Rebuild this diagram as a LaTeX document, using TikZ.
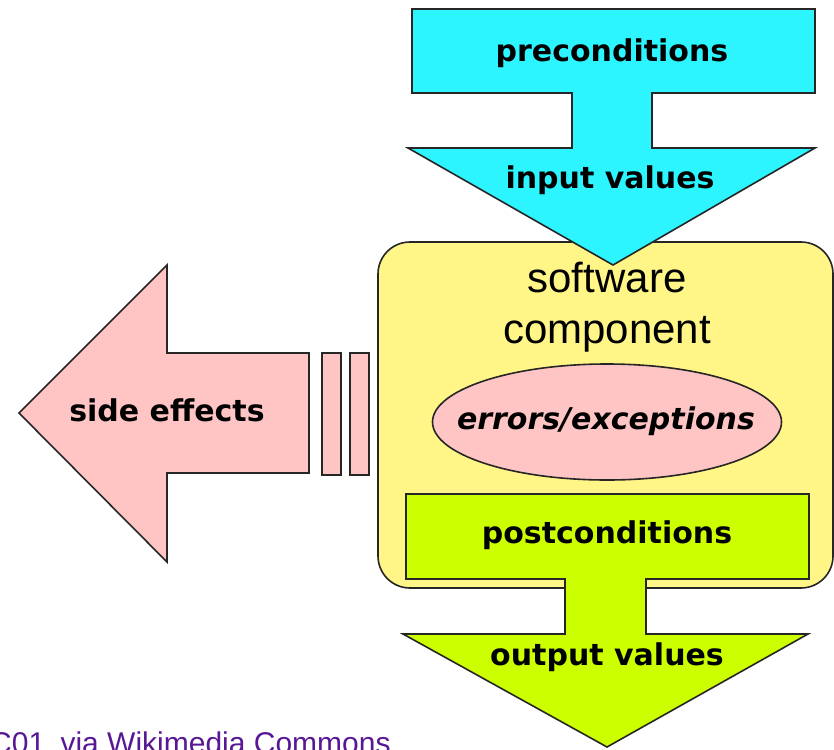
\documentclass[tikz,border=0pt]{standalone}
\usepackage{fontspec}
\usepackage{xcolor}
\usepackage{tikz}
\usetikzlibrary{positioning}

\newfontfamily\djfont{DejaVu Sans}
\newfontfamily\lsfont{Liberation Sans}
\definecolor{incyan}{RGB}{44,245,255}
\definecolor{compyellow}{RGB}{255,246,135}
\definecolor{effpink}{RGB}{255,197,197}
\definecolor{outgreen}{RGB}{204,255,0}
\definecolor{linkpurple}{RGB}{88,24,150}

\begin{document}
\begin{tikzpicture}[
  x=1pt, y=-1pt,
  outline/.style={draw=black!85, line width=1.6pt, line join=miter},
  boldtext/.style={font=\djfont\bfseries\fontsize{30}{36}\selectfont, anchor=base, inner sep=0pt},
  comptext/.style={font=\lsfont\fontsize{42}{50}\selectfont, anchor=base, inner sep=0pt},
  component/.style={rectangle, rounded corners=32pt, minimum width=455pt, minimum height=346pt, outline, fill=compyellow}
]
\clip (0,0) rectangle (834,749);
\useasboundingbox (0,0) rectangle (834,749);

% Component
\node (comp) [component] at (605.5,415) {};
\node (software) [comptext] at (607,292) {software};
\node (compname) [comptext] at (607,343) {component};
\draw [outline, fill=effpink] (607,422) ellipse [x radius=174.5, y radius=58];
\node (errors) [boldtext, font=\djfont\bfseries\itshape\fontsize{30}{36}\selectfont] at (606,429) {errors/exceptions};

% Input arrow
\draw [outline, fill=incyan] (412,9) -- (815,9) -- (815,93) -- (652,93) -- (652,148) -- (815,148)
  -- (613,265) -- (408,148) -- (572,148) -- (572,93) -- (412,93) -- cycle;
\node (pre) [boldtext] at (612,62) {preconditions};
\node (input) [boldtext] at (610,188) {input values};

% Output arrow
\draw [outline, fill=outgreen] (406,494) -- (809,494) -- (809,579) -- (646,579) -- (646,634) -- (808,634)
  -- (607,747) -- (403,634) -- (565,634) -- (565,579) -- (406,579) -- cycle;
\node (post) [boldtext] at (607,543) {postconditions};
\node (output) [boldtext] at (607,665) {output values};

% Side effects
\draw [outline, fill=effpink] (19,413) -- (167,265) -- (167,353) -- (309,353) -- (309,473)
  -- (167,473) -- (167,562) -- cycle;
\draw [outline, fill=effpink] (322,353) rectangle (341,475);
\draw [outline, fill=effpink] (350,353) rectangle (369,475);
\node (side) [boldtext] at (167,421) {side effects};

% Credit
\node (credit) [anchor=base west, inner sep=0pt, text=linkpurple, font=\lsfont\fontsize{30}{36}\selectfont]
  at (-10,753) {C01\hspace{7pt} via Wikimedia Commons};
\end{tikzpicture}
\end{document}
